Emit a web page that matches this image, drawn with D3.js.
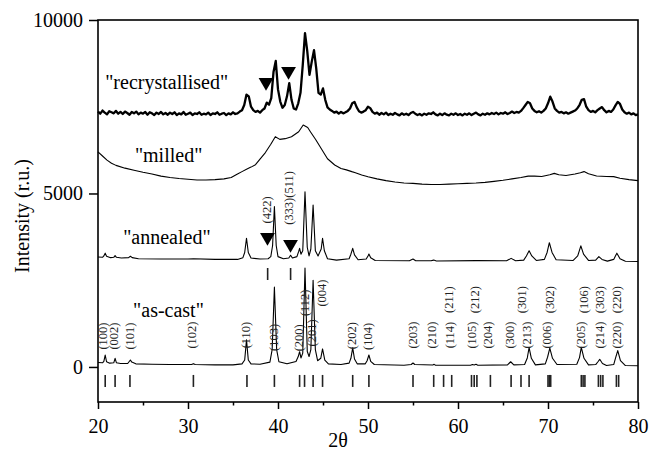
<!DOCTYPE html>
<html>
<head>
<meta charset="utf-8">
<script src="https://cdn.jsdelivr.net/npm/d3@7"></script>
<style>
  body { margin: 0; background: #fff; }
  text { font-family: "Liberation Serif" !important; }
</style>
</head>
<body>
<svg id="chart" width="661" height="455"></svg>
<script>
// 2theta / intensity pairs
const asCast = [
  [20,130],[20.5,120],[20.65,160],[20.8,340],[20.95,150],[21.3,110],[21.75,120],[21.9,250],[22.05,120],
  [22.5,100],[23.3,100],[23.45,150],[23.6,200],[23.75,140],[24.2,90],[26,80],[28,70],[30.4,70],[30.6,95],
  [30.8,70],[33,60],[35,60],[36,90],[36.3,200],[36.5,780],[36.7,200],[37,90],[38,80],[39.1,140],[39.35,500],
  [39.6,2300],[39.85,500],[40.1,150],[41,90],[42,160],[42.25,300],[42.4,440],[42.55,260],[42.75,400],
  [43.0,2850],[43.25,450],[43.45,300],[43.65,500],[43.9,2500],[44.15,500],[44.4,180],[44.75,250],
  [44.95,520],[45.2,200],[45.6,90],[47,70],[47.9,110],[48.1,250],[48.3,550],[48.5,230],[48.8,90],
  [49.7,90],[49.9,180],[50.1,345],[50.3,160],[50.7,70],[54,50],[54.8,70],[55,115],[55.2,70],[57.2,55],
  [57.35,75],[57.5,50],[61.4,50],[61.6,70],[61.8,55],[62.0,75],[62.2,50],[65.5,60],[65.85,150],[66.2,60],
  [67.4,70],[67.7,260],[67.9,560],[68.15,250],[68.6,60],[69.7,90],[69.95,280],[70.2,540],[70.5,250],
  [71,70],[73.2,80],[73.5,270],[73.7,565],[74,250],[74.5,60],[75.3,70],[75.55,150],[75.75,220],
  [76.05,100],[76.5,40],[77.3,70],[77.55,300],[77.75,470],[78.05,180],[78.6,40],[80,35]
];

const annealed = [
  [20,3170],[20.5,3160],[20.65,3200],[20.8,3280],[20.95,3190],[21.4,3150],[21.75,3160],[21.9,3210],
  [22.05,3160],[22.6,3140],[23.4,3150],[23.6,3190],[23.8,3150],[24.5,3120],[27,3110],[30,3110],
  [30.6,3120],[33,3100],[35.5,3100],[36.1,3150],[36.3,3300],[36.5,3710],[36.7,3300],[37,3140],
  [38,3110],[38.9,3120],[39.2,3180],[39.4,3500],[39.6,4620],[39.8,3500],[40,3180],[40.6,3120],
  [41.2,3140],[41.4,3220],[41.6,3140],[42.1,3180],[42.3,3330],[42.4,3420],[42.55,3250],[42.75,3350],
  [43,5050],[43.25,3450],[43.45,3200],[43.65,3400],[43.9,4670],[44.15,3350],[44.45,3200],[44.8,3400],
  [44.95,3710],[45.15,3350],[45.5,3120],[46.5,3080],[47.9,3120],[48.1,3250],[48.3,3420],[48.5,3230],
  [48.9,3090],[49.8,3110],[50,3200],[50.1,3256],[50.3,3150],[50.8,3070],[54.6,3060],[55,3110],
  [55.3,3060],[57,3060],[57.3,3080],[57.6,3055],[62,3065],[65.4,3060],[65.9,3130],[66.4,3060],
  [67.3,3080],[67.6,3200],[67.9,3350],[68.2,3200],[68.7,3070],[69.6,3100],[69.9,3300],[70.15,3580],
  [70.45,3300],[70.9,3090],[72.8,3070],[73.3,3200],[73.65,3490],[73.95,3250],[74.5,3070],[75.3,3080],
  [75.65,3180],[76,3100],[76.6,3050],[77.3,3100],[77.65,3280],[78,3120],[78.6,3045],[80,3040]
];

const milled = [
  [20,6200],[20.5,6080],[21,5960],[21.5,5870],[22,5810],[23,5730],[24,5670],[25,5610],[26,5560],
  [27,5500],[28,5460],[29,5430],[30,5410],[31,5390],[32,5390],[33,5400],[34,5420],[34.8,5460],
  [35.5,5560],[36,5630],[36.5,5700],[37,5760],[37.5,5830],[38,5990],[38.6,6180],[39.2,6420],
  [39.7,6637],[40.2,6560],[40.8,6580],[41.5,6637],[42.3,6780],[42.8,6974],[43.3,6900],[43.6,6781],
  [44.2,6550],[44.9,6254],[45.5,6000],[46.3,5822],[47,5720],[47.6,5680],[48.2,5630],[48.6,5600],
  [49.3,5533],[50,5480],[51,5420],[52,5370],[53,5330],[54,5300],[55,5290],[56,5270],[57,5260],
  [58,5260],[59,5270],[60,5280],[61,5290],[62,5300],[63,5320],[64,5350],[65,5380],[66,5420],
  [67,5460],[67.8,5500],[68.5,5500],[69.3,5490],[70.2,5540],[70.7,5580],[71.2,5540],[72,5520],
  [73,5560],[73.6,5600],[74,5630],[74.5,5570],[75.4,5505],[76.5,5490],[77.3,5485],[78,5440],
  [79,5400],[80,5370]
];

// recrystallised: read every 0.25 deg from 20 to 80
const recrystStart = 20;
const recrystStep = 0.25;
const recrystValues = [
  7360,7300,7390,7330, 7280,7370,7340,7310, 7380,7300,7350,7290, 7360,7320,7270,7350,
  7310,7360,7280,7330, 7300,7350,7270,7340, 7310,7260,7330,7290, 7350,7280,7320,7270,
  7330,7290,7340,7260, 7310,7280,7350,7270, 7300,7330,7260,7310, 7290,7340,7270,7300,
  7280,7330,7260,7310, 7290,7340,7270,7300, 7320,7260,7310,7280, 7340,7290,7310,7360,
  7400,7550,7850,7800, 7500,7400,7350,7380, 7330,7400,7450,7620, 7560,7750,8500,8820,
  8000,7650,7470,7550, 7800,8180,7700,7450, 7420,7600,7900,8700, 9620,9100,8420,8800,
  9130,8600,7900,7850, 8030,7700,7480,7420, 7380,7330,7360,7300, 7350,7310,7340,7380,
  7450,7600,7640,7480, 7370,7330,7360,7400, 7500,7460,7350,7300, 7330,7270,7320,7280,
  7330,7260,7300,7270, 7320,7280,7250,7310, 7270,7300,7260,7320, 7350,7300,7260,7290,
  7250,7300,7270,7310, 7290,7340,7280,7250, 7300,7260,7310,7270, 7250,7300,7270,7310,
  7260,7290,7250,7300, 7270,7310,7260,7300, 7330,7280,7250,7300, 7270,7310,7280,7320,
  7290,7330,7280,7320, 7300,7340,7290,7320, 7360,7320,7350,7330, 7380,7460,7550,7640,
  7600,7450,7380,7340, 7370,7330,7380,7450, 7600,7790,7650,7450, 7380,7330,7350,7310,
  7340,7300,7330,7360, 7390,7450,7550,7700, 7720,7500,7400,7350, 7380,7340,7400,7450,
  7490,7400,7340,7380, 7350,7420,7540,7640, 7580,7420,7340,7300, 7330,7280,7310,7260,
  7280
];

// reference reflection positions
const hexTicks = [20.8, 21.9, 23.55, 30.6, 36.55, 39.6, 42.4, 42.95, 43.9, 44.95, 48.3, 50.1, 55.0,
  57.3, 58.4, 59.3, 61.5, 61.8, 62.1, 63.6, 65.9, 67.0, 67.9, 70.0, 70.15, 70.3, 73.7, 73.9, 74.1,
  75.6, 75.85, 76.1, 77.6, 77.85];
const cubicTicks = [38.85, 41.4];

// hkl labels: [text, 2theta, intensity of label centre]
const hklLabels = [
  ["(100)", 20.6, 890], ["(002)", 21.8, 890], ["(101)", 23.55, 890], ["(102)", 30.45, 920],
  ["(110)", 36.45, 920], ["(103)", 39.55, 850], ["(200)", 42.35, 840], ["(112)", 43.0, 1850],
  ["(201)", 43.8, 980], ["(004)", 44.85, 2130], ["(202)", 48.25, 900], ["(104)", 50.05, 880],
  ["(203)", 55.0, 920], ["(210)", 57.1, 920], ["(114)", 59.1, 920], ["(211)", 59.0, 1940],
  ["(105)", 61.5, 920], ["(212)", 61.9, 1940], ["(204)", 63.3, 920], ["(300)", 65.8, 920],
  ["(213)", 67.7, 920], ["(301)", 67.1, 1940], ["(006)", 69.9, 920], ["(302)", 70.2, 1940],
  ["(205)", 73.7, 920], ["(106)", 74.05, 1940], ["(214)", 75.75, 920], ["(303)", 75.8, 1940],
  ["(220)", 77.7, 920], ["(220)", 77.7, 1940]
];
const cubicLabels = [["(422)", 38.75, 4525], ["(333)(511)", 41.25, 4870]];

// sample names: [text, 2theta at left of text, intensity at baseline]
const sampleNames = [
  ['"recrystallised"', 20.8, 8010], ['"milled"', 24.1, 5910],
  ['"annealed"', 22.8, 3545], ['"as-cast"', 23.9, 1440]
];
const triangles = [[38.67, 8205], [41.17, 8522], [38.83, 3738], [41.39, 3536]];

const xTicks = [20, 30, 40, 50, 60, 70, 80];
const xMinorTicks = [25, 35, 45, 55, 65, 75];
const yTicks = [0, 5000, 10000];

const width = 661, height = 455;
const fontName = 'Liberation Serif';
const svg = d3.select('#chart');
svg.append('rect').attr('width', width).attr('height', height).attr('fill', '#fff');

const x = d3.scaleLinear().domain([20, 80]).range([98, 638]);
const y = d3.scaleLinear().domain([-1010, 10000]).range([402, 20]);

// axes
const xAxis = svg.append('g').attr('transform', 'translate(0,402)')
  .call(d3.axisBottom(x).tickValues(xTicks).tickSize(7).tickPadding(10).tickSizeOuter(0));
const xMinor = svg.append('g').attr('transform', 'translate(0,402)')
  .call(d3.axisBottom(x).tickValues(xMinorTicks).tickSize(3.5).tickFormat('').tickSizeOuter(0));
const yAxis = svg.append('g').attr('transform', 'translate(98,0)')
  .call(d3.axisLeft(y).tickValues(yTicks).tickFormat(d3.format('d')).tickSize(9).tickPadding(6).tickSizeOuter(0));

[xAxis, xMinor, yAxis].forEach(g => {
  g.select('.domain').remove();
  g.selectAll('line').attr('stroke', '#000').attr('stroke-width', 1.5);
  g.attr('font-family', fontName).attr('font-size', 20);
  g.selectAll('text').attr('fill', '#000').attr('font-family', fontName);
});

// frame
svg.append('rect')
  .attr('x', 98).attr('y', 20).attr('width', 540).attr('height', 382)
  .attr('fill', 'none').attr('stroke', '#000').attr('stroke-width', 1.6);

// axis titles
svg.append('text').attr('x', 338).attr('y', 447).attr('text-anchor', 'middle')
  .attr('font-size', 20).attr('font-family', fontName).text('2θ');
svg.append('text').attr('transform', 'translate(29,216) rotate(-90)')
  .attr('text-anchor', 'middle').attr('font-size', 20).attr('font-family', fontName).text('Intensity (r.u.)');

// curves
const line = d3.line().x(d => x(d[0])).y(d => y(d[1]));
const recryst = recrystValues.map((v, i) => [recrystStart + i * recrystStep, v]);

const curves = svg.append('g').attr('fill', 'none').attr('stroke', '#000').attr('stroke-linejoin', 'round');
curves.append('path').datum(asCast).attr('d', line).attr('stroke-width', 1.1);
curves.append('path').datum(annealed).attr('d', line).attr('stroke-width', 1.1);
curves.append('path').datum(milled).attr('d', line).attr('stroke-width', 1.1);
curves.append('path').datum(recryst).attr('d', line).attr('stroke-width', 2.3);

// reflection markers
svg.append('g').selectAll('line').data(hexTicks).join('line')
  .attr('x1', d => x(d)).attr('x2', d => x(d))
  .attr('y1', y(-230)).attr('y2', y(-576))
  .attr('stroke', '#222').attr('stroke-width', 1.6);
svg.append('g').selectAll('line').data(cubicTicks).join('line')
  .attr('x1', d => x(d)).attr('x2', d => x(d))
  .attr('y1', y(2853)).attr('y2', y(2507))
  .attr('stroke', '#222').attr('stroke-width', 1.6);

// hkl labels (rotated)
svg.append('g').selectAll('text').data(hklLabels.concat(cubicLabels)).join('text')
  .attr('transform', d => `translate(${x(d[1])},${y(d[2])}) rotate(-90)`)
  .attr('text-anchor', 'middle').attr('dominant-baseline', 'central')
  .attr('font-size', 12.5).attr('fill', '#222').attr('font-family', fontName)
  .text(d => d[0]);

// sample names
svg.append('g').selectAll('text').data(sampleNames).join('text')
  .attr('x', d => x(d[1])).attr('y', d => y(d[2]))
  .attr('font-size', 20).attr('fill', '#000').attr('font-family', fontName)
  .text(d => d[0]);

// triangles marking the cubic phase
svg.append('g').selectAll('path').data(triangles).join('path')
  .attr('d', d3.symbol(d3.symbolTriangle, 95))
  .attr('transform', d => `translate(${x(d[0])},${y(d[1])}) rotate(180)`)
  .attr('fill', '#000');
</script>
</body>
</html>
